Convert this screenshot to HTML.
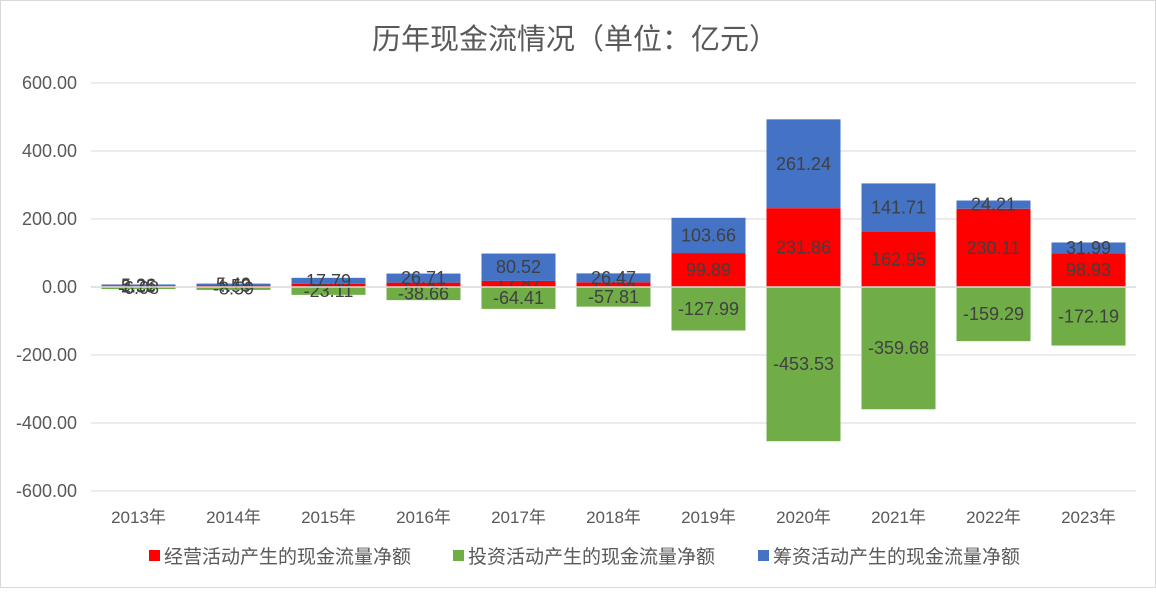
<!DOCTYPE html>
<html><head><meta charset="utf-8"><style>
body{margin:0;background:#fff;font-family:"Liberation Sans","Noto Sans CJK SC",sans-serif}
#wrap{position:relative;width:1156px;height:588px;border:1px solid #d9d9d9;box-sizing:border-box}
svg text{font-family:"Liberation Sans","Noto Sans CJK SC",sans-serif}
</style></head><body>
<div id="wrap">
<svg id="chart" width="1156" height="588"></svg>
</div>
<script>
const categories=["2013年","2014年","2015年","2016年","2017年","2018年","2019年","2020年","2021年","2022年","2023年"];
const operating=[2.35,4.5,9.14,12.82,17.87,13.58,99.89,231.86,162.95,230.11,98.93];
const investing=[-6.08,-8.59,-23.11,-38.66,-64.41,-57.81,-127.99,-453.53,-359.68,-159.29,-172.19];
const financing=[5.26,5.49,17.79,26.71,80.52,26.47,103.66,261.24,141.71,24.21,31.99];
const ticks=[600,400,200,0,-200,-400,-600];
const tickLabels=["600.00","400.00","200.00","0.00","-200.00","-400.00","-600.00"];
const NS="http://www.w3.org/2000/svg";
const svg=document.getElementById('chart');
const x0=90,x1=1135,yTop=82,yBot=490;
const y=v=>286-v*(yBot-yTop)/1200;
const step=(x1-x0)/categories.length;
const cx=i=>x0+step*(i+0.5);
const bw=74;
function mk(t,a){const e=document.createElementNS(NS,t);for(const k in a)e.setAttribute(k,a[k]);svg.appendChild(e);return e;}
let t=mk('text',{x:574,y:48,'text-anchor':'middle','font-size':29,fill:'#595959'});t.textContent='历年现金流情况（单位：亿元）';


ticks.forEach((v,i)=>{
 const l=mk('line',{x1:x0,x2:x1,y1:y(v),y2:y(v),stroke:'#d9d9d9','stroke-width':1});
 
 
 const tx=mk('text',{x:76,y:y(v)+6,'text-anchor':'end','font-size':18,fill:'#595959'});tx.textContent=tickLabels[i];
 
 
});
function bar(i,b,v,color,name){
 const top=v>=0?y(b+v):y(b),h=Math.abs(y(b+v)-y(b));
 const r=mk('rect',{x:cx(i)-bw/2,y:top,width:bw,height:Math.max(h,1),fill:color});
 
 
 const tx=mk('text',{x:cx(i),y:top+h/2+6,'text-anchor':'middle','font-size':18,fill:'#404040'});tx.textContent=v.toFixed(2);
 
 
}
categories.forEach((c,i)=>{
 bar(i,0,operating[i],'#ff0000','bar-operating');
 bar(i,operating[i],financing[i],'#4472c4','bar-financing');
 bar(i,0,investing[i],'#70ad47','bar-investing');
 const tx=mk('text',{x:cx(i),y:522,'text-anchor':'middle','font-size':17,fill:'#595959'});tx.textContent=c;
 
 
});
mk('line',{x1:x0,x2:x1,y1:y(0),y2:y(0),stroke:'#d9d9d9','stroke-width':1.5});
const leg=[["经营活动产生的现金流量净额","#ff0000",148],["投资活动产生的现金流量净额","#70ad47",452],["筹资活动产生的现金流量净额","#4472c4",757]];
leg.forEach(([n,c,lx])=>{
 const r=mk('rect',{x:lx,y:549,width:11,height:11,fill:c});
 
 
 const tx=mk('text',{x:lx+15,y:562,'font-size':19,fill:'#595959'});tx.textContent=n;
 
 
});
</script>
</body></html>
